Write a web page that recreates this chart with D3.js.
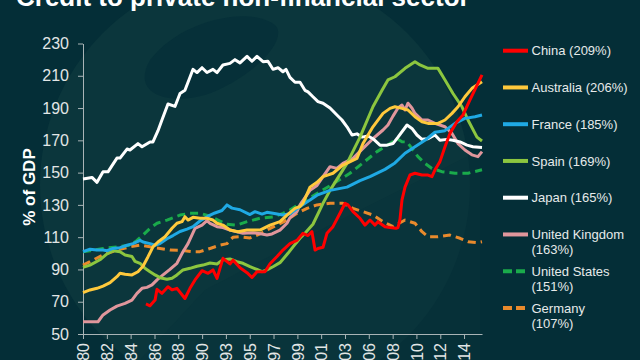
<!DOCTYPE html>
<html>
<head>
<meta charset="utf-8">
<script src="https://cdn.jsdelivr.net/npm/d3@7"></script>
<style>
  html, body { margin: 0; padding: 0; background: #042e37; }
  svg { display: block; }
  text { font-family: "Liberation Sans", Arial, sans-serif; }
</style>
</head>
<body>
<svg id="chart" width="640" height="360"></svg>
<script>
// ---------------- DATA ----------------
const titleText = "Credit to private non-financial sector";
const yAxisTitle = "% of GDP";
const yTicks = [50, 70, 90, 110, 130, 150, 170, 190, 210, 230];
const xTickLabels = ["80","82","84","86","88","90","93","95","97","99","01","03","06","08","10","12","14"];
const xTickYears = [1980.0,1982.18,1984.35,1986.53,1988.70,1990.88,1993.05,1995.23,1997.40,1999.58,2001.75,2003.93,2006.10,2008.28,2010.45,2012.63,2014.80];

const seriesNames = ["China","Australia","France","Spain","Japan","United Kingdom","United States","Germany"];
const latestShares = ["209%","206%","185%","169%","165%","163%","151%","107%"];

const china = [[1985.75,68.6],[1986.12,67.5],[1986.58,71],[1986.76,77.7],[1987.21,75.2],[1987.76,79.3],[1988.13,77.3],[1988.58,78.3],[1989.31,72],[1989.77,78.3],[1990.23,83.5],[1990.87,89.2],[1991.42,87.6],[1991.87,89.7],[1992.24,84.5],[1992.78,96.9],[1993.42,93.4],[1993.70,95.8],[1994.34,91],[1994.98,88],[1995.43,85],[1995.89,88.6],[1996.62,88.6],[1997.08,93.5],[1997.72,98],[1998.26,102],[1998.90,106],[1999.54,108],[2000.09,112.4],[2000.55,111],[2000.91,113.4],[2001.19,102],[2001.46,103],[2001.92,103.7],[2002.28,112.4],[2002.83,116.5],[2003.47,124.8],[2003.93,131],[2004.20,130],[2004.66,125.8],[2005.30,121.7],[2005.75,117.5],[2006.21,120.6],[2006.67,117.5],[2006.94,119.6],[2007.58,116.5],[2008.04,116],[2008.58,115.5],[2008.77,116],[2008.95,121],[2009.13,133],[2009.41,141],[2009.86,148.5],[2010.32,149.6],[2010.96,148.5],[2011.51,148.5],[2011.87,147.5],[2012.14,151.6],[2012.60,156.8],[2013.06,166],[2013.51,174.3],[2014.15,181.5],[2014.70,185.7],[2015.34,195],[2015.98,204],[2016.44,210.5]];

const australia = [[1980.00,75.6],[1980.64,77.3],[1981.28,78.3],[1981.83,79.7],[1982.47,81.8],[1983.10,85.5],[1983.38,87.6],[1983.84,87],[1984.47,86.6],[1985.02,88.6],[1985.48,92],[1985.94,97.9],[1986.39,104],[1986.85,107],[1987.49,110.3],[1988.13,115.5],[1988.58,118.6],[1989.04,119.6],[1989.31,122.7],[1989.59,120.6],[1990.05,122.3],[1990.68,121.7],[1991.32,121.7],[1991.87,120.6],[1992.24,118.6],[1992.78,117.5],[1993.42,114.4],[1994.15,113.4],[1994.98,114.4],[1996.16,114.4],[1997.08,117.5],[1997.99,119.6],[1998.63,123.7],[1999.36,127.8],[1999.82,129],[2000.09,131],[2000.73,141],[2001.37,144],[2001.92,147.5],[2002.83,149.6],[2003.74,154.7],[2005.02,158.8],[2005.57,168],[2006.48,178.4],[2007.40,186.7],[2008.04,189.8],[2008.49,190.8],[2009.13,189.8],[2009.68,188.8],[2010.32,184.6],[2010.96,181.5],[2011.51,180.5],[2012.42,180.5],[2013.06,182.6],[2013.70,186.7],[2014.25,190.8],[2014.88,197],[2015.52,202.2],[2016.44,206.3]];

const france = [[1980.00,101],[1980.64,102.5],[1981.28,102],[1981.83,102],[1982.19,101.6],[1982.74,103],[1983.38,103.5],[1984.02,105],[1984.57,106],[1985.21,108],[1985.48,107],[1986.12,106],[1986.58,105],[1987.03,106],[1987.67,109],[1988.22,111],[1988.86,113.5],[1989.50,115],[1990.05,116.5],[1990.68,120],[1991.42,123],[1992.05,125],[1992.69,126.5],[1993.15,130],[1993.61,128],[1994.34,127],[1995.25,124],[1995.71,125.8],[1996.35,124.3],[1996.80,125.4],[1997.35,124.8],[1998.26,123.7],[1998.90,124.5],[1999.82,129],[2000.73,133],[2001.37,136],[2002.56,139],[2004.11,141],[2005.30,145],[2006.21,147.5],[2007.58,152],[2008.49,156],[2009.41,162],[2010.32,166],[2011.23,170],[2012.14,175],[2013.06,176],[2013.97,180.5],[2014.88,183.6],[2015.80,184.6],[2016.44,185.7]];

const spain = [[1980.00,91.3],[1980.64,92.7],[1981.55,96],[1982.19,99.6],[1982.74,101.6],[1983.38,101],[1983.84,99],[1984.47,98],[1984.75,95],[1985.21,93.8],[1985.66,90.7],[1986.12,88.6],[1986.58,86.6],[1987.03,84.9],[1987.67,83.9],[1988.13,84.5],[1988.58,86.6],[1989.13,89.7],[1989.77,90.7],[1990.41,92],[1990.96,92.7],[1991.60,94],[1992.24,93.4],[1992.78,96],[1993.42,96.5],[1994.06,94.8],[1994.61,93.8],[1995.25,91.7],[1995.89,90],[1996.35,88.6],[1996.80,89.7],[1997.35,91.7],[1997.99,94.2],[1998.72,100],[1999.18,104],[1999.82,109.3],[2000.27,112.4],[2001.00,118],[2001.92,131],[2002.56,139],[2004.11,155.7],[2005.30,172],[2006.48,190.8],[2007.31,201],[2007.85,207.4],[2008.49,209.4],[2009.41,214.6],[2010.32,218.7],[2010.78,216.7],[2011.51,214.6],[2012.42,214.6],[2013.06,207.4],[2013.79,199],[2014.61,190.8],[2015.16,182.6],[2015.98,172],[2016.44,169.6]];

const japan = [[1980.00,146],[1980.82,147],[1981.28,144],[1981.83,150.5],[1982.28,150.5],[1983.10,159],[1983.38,159],[1984.02,164.6],[1984.29,164],[1985.02,168],[1985.39,166],[1986.12,169],[1986.39,169],[1986.85,176],[1987.21,182.6],[1987.76,192.5],[1988.40,191],[1988.86,199],[1989.31,201],[1990.05,214],[1990.41,212],[1990.87,215],[1991.32,212],[1991.87,214],[1992.24,212],[1992.78,216.7],[1993.42,217.7],[1993.88,220],[1994.34,218],[1994.98,222],[1995.43,219],[1995.89,222],[1996.44,218.7],[1996.89,219],[1997.35,214],[1997.81,215],[1998.26,212.5],[1998.54,214],[1998.90,209],[1999.36,206],[1999.82,206],[2000.27,201],[2000.55,200],[2001.00,197],[2001.46,194],[2001.92,193],[2002.56,190],[2003.19,185.7],[2003.65,182.6],[2004.11,178.4],[2004.57,173.3],[2005.02,174],[2005.48,172],[2006.03,172.7],[2006.48,171],[2007.12,167],[2007.76,167],[2008.31,168],[2008.77,172],[2009.59,179.5],[2010.04,177.4],[2010.50,173.3],[2010.96,170.6],[2011.51,171],[2012.14,173.3],[2012.60,170],[2013.24,170.6],[2013.79,170],[2014.43,169],[2015.07,167],[2015.61,166],[2016.44,165.5]];

const unitedKingdom = [[1980.00,57.6],[1980.64,57.6],[1981.37,57.6],[1981.83,61.8],[1982.47,64.9],[1983.10,67.3],[1983.84,69],[1984.47,71],[1984.93,75.2],[1985.39,78.3],[1985.84,78.9],[1986.30,80.4],[1986.76,83.5],[1987.31,86.6],[1987.94,90],[1988.58,93.8],[1989.13,101],[1989.59,106],[1990.23,115.5],[1990.87,117.5],[1991.32,120.2],[1991.60,118.6],[1992.24,116.5],[1992.78,116],[1993.42,114.4],[1994.06,113.4],[1994.61,112.4],[1995.52,112.8],[1996.35,112],[1996.80,111.3],[1997.26,112],[1997.99,114.4],[1998.63,118.6],[1998.90,122],[1999.54,125.8],[1999.82,130],[2000.73,139],[2001.37,142],[2001.92,147.5],[2002.56,153.7],[2003.19,152.6],[2003.74,155.7],[2004.66,158.8],[2005.57,165],[2006.48,171],[2007.40,176.4],[2007.85,179.5],[2008.31,185],[2008.77,190],[2009.13,191.9],[2009.41,188.8],[2009.68,193],[2010.04,190],[2010.32,186.7],[2010.96,182.6],[2011.51,182.6],[2012.14,180.5],[2013.06,178.4],[2013.70,174.3],[2014.25,168],[2014.88,164],[2015.52,161],[2016.07,159.9],[2016.44,163]];

const unitedStates = [[1980.00,101],[1980.64,101.6],[1981.83,103],[1983.10,104],[1984.29,105],[1984.93,108],[1985.48,111.3],[1986.12,115.5],[1986.76,118.6],[1987.67,120.6],[1988.86,123.7],[1989.77,124.8],[1990.68,124.8],[1991.60,123],[1992.51,120],[1993.15,118],[1994.06,117.5],[1994.98,119.6],[1996.16,121.7],[1997.35,122.5],[1998.26,124.8],[1998.90,126.8],[1999.63,130],[2001.37,137],[2002.83,143],[2004.38,149.6],[2005.57,156],[2006.85,163],[2008.04,168],[2008.68,171],[2009.13,169.1],[2009.59,169],[2010.04,165],[2010.59,159.9],[2011.23,155.7],[2011.87,152.6],[2012.78,150.6],[2013.97,149.6],[2015.16,149.6],[2016.44,151.8]];

const germany = [[1980.00,92.7],[1980.64,94.8],[1981.83,99],[1983.10,102],[1984.29,104],[1985.21,105.1],[1986.12,104],[1987.03,103],[1987.94,102],[1989.13,101.8],[1990.05,101],[1990.68,101],[1991.60,103],[1992.51,105.1],[1993.15,106],[1993.70,110],[1994.34,110.3],[1995.25,109.5],[1996.16,112],[1996.80,114.4],[1997.72,117.5],[1998.63,120.6],[1999.54,124.8],[2000.46,127.8],[2001.37,130],[2002.56,131],[2003.74,131],[2004.66,127.8],[2005.57,125.8],[2006.48,123.7],[2007.40,119.6],[2008.31,116.5],[2009.41,120.6],[2010.32,118.6],[2010.96,113.4],[2011.51,110.3],[2012.42,110.3],[2013.51,111.3],[2014.43,109.3],[2015.16,107.2],[2015.98,106.6],[2016.44,107.2]];

const seriesValues = [china, australia, france, spain, japan, unitedKingdom, unitedStates, germany];

// ---------------- STYLE ----------------
const seriesColors = ["#ff0000","#ffc93c","#1fa9e4","#8cc63f","#ffffff","#e0969c","#1aab4b","#e98a2c"];
const seriesDashed = [false,false,false,false,false,false,true,true];
const legendWrapped = [false,false,false,false,false,true,true,true];

// ---------------- DRAW ----------------
const svg = d3.select("#chart");
const W = 640, H = 360;

// background
svg.append("rect").attr("width", W).attr("height", H).attr("fill", "#042e37");
svg.append("circle").attr("cx", 255).attr("cy", 185).attr("r", 215).attr("fill", "#0b363c");
svg.append("path")
  .attr("d", "M150,60 C180,20 250,5 275,25 C290,40 250,80 205,95 C170,105 130,95 150,60 Z")
  .attr("fill", "#063039");
svg.append("path")
  .attr("d", "M140,360 L205,290 L330,225 L480,150 L480,360 Z")
  .attr("fill", "#08323a").attr("opacity", 0.5);

const x = d3.scaleLinear().domain([1980, 2016.44]).range([83, 482]);
const y = d3.scaleLinear().domain([50, 230]).range([334, 43.5]);

// title
svg.append("text")
  .attr("x", 16).attr("y", 6)
  .attr("fill", "#ffffff")
  .style("font-size", "26px").style("font-weight", "bold")
  .text(titleText);

// y axis
const yAxis = svg.append("g")
  .attr("transform", "translate(83,0)")
  .call(d3.axisLeft(y).tickValues(yTicks).tickSize(5).tickSizeOuter(0).tickPadding(9));
yAxis.select(".domain").attr("stroke", "#a9b4b6");
yAxis.selectAll(".tick line").attr("stroke", "#a9b4b6");
yAxis.selectAll(".tick text").attr("fill", "#e2e6e6").style("font-size", "16px")
  .style("font-family", "Liberation Sans, Arial, sans-serif");

// x axis
const xAxis = svg.append("g")
  .attr("transform", "translate(0,334)")
  .call(d3.axisBottom(x).tickValues(xTickYears)
        .tickFormat((d, i) => xTickLabels[i]).tickSize(5).tickSizeOuter(0));
xAxis.select(".domain").attr("stroke", "#a9b4b6");
xAxis.selectAll(".tick line").attr("stroke", "#a9b4b6");
xAxis.selectAll(".tick text")
  .attr("fill", "#e2e6e6").style("font-size", "16px")
  .style("font-family", "Liberation Sans, Arial, sans-serif")
  .attr("transform", "rotate(-90)")
  .attr("x", -9).attr("y", 0).attr("dy", "0.35em")
  .style("text-anchor", "end");

// y axis title
svg.append("text")
  .attr("transform", "translate(35,187) rotate(-90)")
  .attr("text-anchor", "middle")
  .attr("fill", "#ffffff")
  .style("font-size", "17px").style("font-weight", "bold")
  .text(yAxisTitle);

// lines
const line = d3.line().x(d => x(d[0])).y(d => y(d[1]));
const order = [7, 6, 5, 4, 3, 2, 1, 0];
order.forEach(i => {
  svg.append("path")
    .datum(seriesValues[i])
    .attr("d", line)
    .attr("fill", "none")
    .attr("stroke", seriesColors[i])
    .attr("stroke-width", 3)
    .attr("stroke-linejoin", "round")
    .attr("stroke-dasharray", seriesDashed[i] ? "8,5" : null);
});

// legend
const legend = svg.append("g");
seriesNames.forEach((name, i) => {
  const cy = 50.7 + i * 36.75;
  legend.append("line")
    .attr("x1", 503).attr("x2", 528).attr("y1", cy).attr("y2", cy)
    .attr("stroke", seriesColors[i]).attr("stroke-width", 4)
    .attr("stroke-dasharray", seriesDashed[i] ? "9,4" : null);
  const t = legend.append("text")
    .attr("x", 531.5).attr("y", cy).attr("dy", "0.35em")
    .attr("fill", "#e6eaea").style("font-size", "13px");
  if (legendWrapped[i]) {
    t.append("tspan").attr("x", 531.5).text(name);
    t.append("tspan").attr("x", 531.5).attr("dy", "15").text("(" + latestShares[i] + ")");
  } else {
    t.text(name + " (" + latestShares[i] + ")");
  }
});
</script>
</body>
</html>
